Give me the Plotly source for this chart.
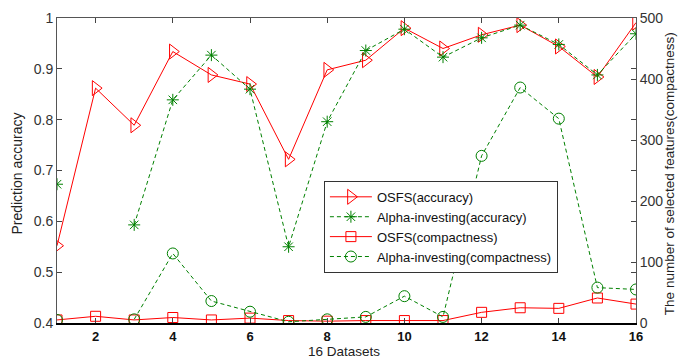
import plotly.graph_objects as go

datasets = list(range(1, 17))
osfs_acc = [0.552, 0.862, 0.789, 0.934, 0.888, 0.870, 0.722, 0.898, 0.917, 0.980, 0.940, 0.967, 0.986, 0.944, 0.884, 0.991]
alpha_acc = [0.673, None, 0.593, 0.839, 0.927, 0.860, 0.550, 0.796, 0.936, 0.978, 0.923, 0.961, 0.986, 0.948, 0.888, 0.969]
osfs_comp = [5, 11, 5, 9, 5, 8, 4, 3, 4, 4, 4, 17.5, 25, 24, 41, 31]
alpha_comp = [5, None, 6, 114, 36, 18.5, 2, 6, 10, 44, 10, 274, 386, 335, 58, 55]

RED = "#ff0000"
GREEN = "#008000"
FONT = "Liberation Sans, Arial, sans-serif"

fig = go.Figure()
fig.add_trace(go.Scatter(
    x=datasets, y=osfs_acc, name="OSFS(accuracy)", mode="lines+markers",
    line=dict(color=RED, width=1),
    marker=dict(symbol="triangle-right-open", size=13, color=RED, line=dict(width=1, color=RED)),
    yaxis="y"))
fig.add_trace(go.Scatter(
    x=datasets, y=alpha_acc, name="Alpha-investing(accuracy)", mode="lines+markers",
    line=dict(color=GREEN, width=1, dash="4px,3px"),
    marker=dict(symbol="asterisk-open", size=10, color=GREEN, line=dict(width=1, color=GREEN)),
    yaxis="y"))
fig.add_trace(go.Scatter(
    x=datasets, y=osfs_comp, name="OSFS(compactness)", mode="lines+markers",
    line=dict(color=RED, width=1),
    marker=dict(symbol="square-open", size=10, color=RED, line=dict(width=1, color=RED)),
    yaxis="y2"))
fig.add_trace(go.Scatter(
    x=datasets, y=alpha_comp, name="Alpha-investing(compactness)", mode="lines+markers",
    line=dict(color=GREEN, width=1, dash="4px,3px"),
    marker=dict(symbol="circle-open", size=11, color=GREEN, line=dict(width=1, color=GREEN)),
    yaxis="y2"))
# empty trace to show the top axis
fig.add_trace(go.Scatter(x=[None], y=[None], xaxis="x2", showlegend=False, hoverinfo="skip"))

fig.update_layout(
    width=678, height=360,
    margin=dict(l=57, r=42, t=18, b=37),
    paper_bgcolor="white", plot_bgcolor="white",
    font=dict(family=FONT, size=12, color="#222"),
    showlegend=True,
    legend=dict(
        x=0.461, y=0.466, xanchor="left", yanchor="top",
        bgcolor="white", bordercolor="#333", borderwidth=1,
        font=dict(size=13, color="#111"), tracegroupgap=0, itemwidth=42,
    ),
    xaxis=dict(
        range=[1, 16], tickmode="array", tickvals=[2, 4, 6, 8, 10, 12, 14, 16],
        ticks="inside", ticklen=5, tickcolor="#444", showgrid=False, zeroline=False,
        showline=True, linecolor="#000", linewidth=2, mirror=False, automargin=False,
        tickfont=dict(size=13, color="#111", family=FONT, weight="bold"),
    ),
    xaxis2=dict(
        range=[1, 16], tickmode="array", tickvals=[2, 4, 6, 8, 10, 12, 14, 16],
        overlaying="x", side="top", ticks="inside", ticklen=5, tickcolor="#444",
        showticklabels=False, showgrid=False, zeroline=False, automargin=False,
        showline=True, linecolor="#555", linewidth=1,
    ),
    yaxis=dict(
        range=[0.4, 1], dtick=0.1, tick0=0.4, ticks="inside", ticklen=5, tickcolor="#444",
        showgrid=False, zeroline=False, showline=True, linecolor="#555", linewidth=1,
        mirror="ticks", automargin=False,
        tickfont=dict(size=14, color="#333"),
    ),
    yaxis2=dict(
        range=[0, 500], dtick=100, overlaying="y", side="right",
        ticks="inside", ticklen=5, tickcolor="#444", automargin=False,
        showgrid=False, zeroline=False, showline=True, linecolor="#555", linewidth=1,
        tickfont=dict(size=14, color="#333"),
    ),
    annotations=[
        dict(text="16 Datasets", xref="paper", yref="paper", x=0.496, y=-0.066,
             xanchor="center", yanchor="top", showarrow=False, borderpad=0,
             font=dict(size=13.5, color="#222")),
        dict(text="Prediction accuracy", textangle=-90, xref="paper", yref="paper",
             x=-0.069, y=0.49, xanchor="center", yanchor="middle", showarrow=False,
             font=dict(size=14, color="#222")),
        dict(text="The number of selected features(compactness)", textangle=-90,
             xref="paper", yref="paper", x=1.058, y=0.49, xanchor="center",
             yanchor="middle", showarrow=False, font=dict(size=13.5, color="#222")),
    ],
)

fig.write_html("out.html", config={"displayModeBar": False},
               post_script="document.body.style.margin='0px';")
